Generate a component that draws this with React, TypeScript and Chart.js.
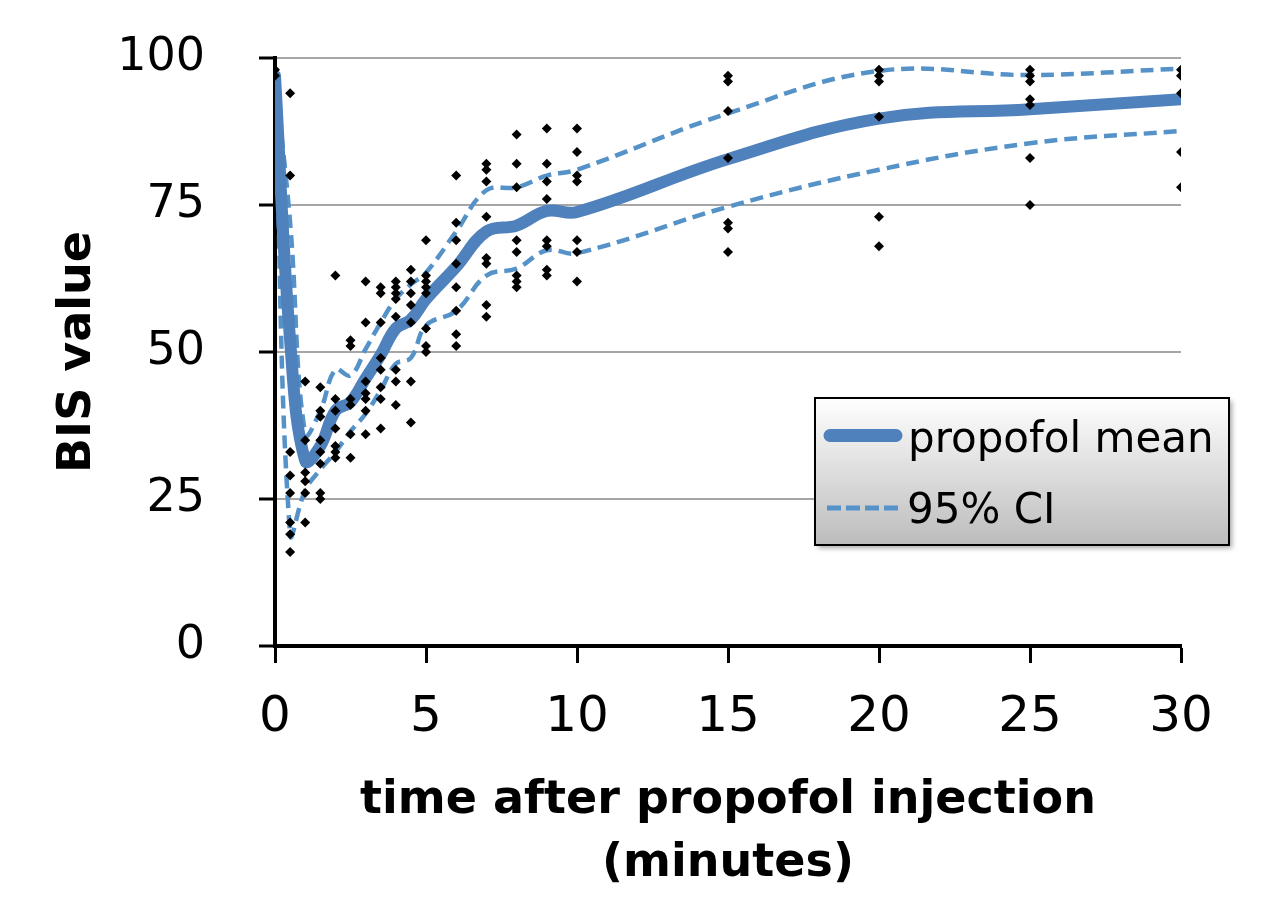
import React, { useEffect, useRef } from 'react';
import { Chart, registerables } from 'chart.js';

Chart.register(...registerables);

const FONT = '"DejaVu Sans", sans-serif';

// smoothed curves (minutes -> BIS)
const lineTimes = [0, 0.5, 1, 1.5, 2, 2.5, 3, 3.5, 4, 4.5, 5, 6, 7, 8, 9, 10, 15, 20, 25, 30];
const meanBIS = [97, 52, 31.5, 34, 40, 41.5, 45.5, 49.5, 54, 55.5, 59, 64.5, 70.5, 71.5, 74, 73.8, 82.8, 89.7, 91.3, 93];
const upperCI = [97, 72, 36, 40, 47, 46, 50.5, 55, 59, 61.5, 63.5, 70.5, 77.5, 78, 80, 81, 90.6, 97.8, 97.1, 98.2];
const lowerCI = [97, 19, 26.5, 30, 33, 36.5, 39.5, 43.5, 48, 49, 54.5, 57, 63, 64.2, 67.3, 66.8, 74.7, 81, 85.5, 87.6];

// individual observations per time point
const obsTimes = [0, 0.5, 1, 1.5, 2, 2.5, 3, 3.5, 4, 4.5, 5, 6, 7, 8, 9, 10, 15, 20, 25, 30];
const obsBIS = [
  [98, 97],
  [94, 80, 33, 29, 26, 21, 19, 16],
  [45, 35, 29.5, 28, 26, 21],
  [44, 40, 39, 35, 33, 31, 26, 25],
  [63, 42, 40, 37, 34, 33, 32],
  [52, 51, 42, 41, 36, 32],
  [62, 55, 45, 43, 42, 40, 36],
  [61, 60, 55, 49, 47, 44, 42, 37],
  [62, 61, 60, 59, 56, 47, 45, 41],
  [64, 62, 60, 58, 55, 45, 38],
  [69, 63, 62, 61, 60, 54, 51, 50],
  [80, 72, 69, 65, 61, 57, 53, 51],
  [82, 81, 79, 73, 66, 65, 58, 56],
  [87, 82, 78, 69, 67, 63, 62, 61],
  [88, 82, 79, 76, 69, 68, 64, 63],
  [88, 84, 80, 79, 69, 67, 62],
  [97, 96, 91, 83, 72, 71, 67],
  [98, 97, 96, 90, 73, 68],
  [98, 97, 96, 93, 92, 83, 75],
  [98, 97, 94, 84, 78],
];

const xTickStep = 5;
const yTickStep = 25;
const xTitle = ['time after propofol injection', '(minutes)'];
const yTitle = 'BIS value';
const meanLabel = 'propofol mean';
const ciLabel = '95% CI';

const MEAN_COLOR = '#4f81bd';
const CI_COLOR = '#5592c8';

const toPoints = (xs: number[], ys: number[]) => xs.map((x, i) => ({ x, y: ys[i] }));

const boxLegend = {
  id: 'boxLegend',
  afterDraw(chart: any) {
    const ctx = chart.ctx as CanvasRenderingContext2D;
    const x0 = 807, y0 = 390, w = 414, h = 147;
    ctx.save();
    ctx.shadowColor = 'rgba(0,0,0,0.35)';
    ctx.shadowBlur = 5;
    ctx.shadowOffsetX = 3;
    ctx.shadowOffsetY = 3;
    const g = ctx.createLinearGradient(0, y0, 0, y0 + h);
    g.addColorStop(0, '#ffffff');
    g.addColorStop(1, '#bcbcbc');
    ctx.fillStyle = g;
    ctx.fillRect(x0, y0, w, h);
    ctx.shadowColor = 'rgba(0,0,0,0)';
    ctx.lineWidth = 2;
    ctx.strokeStyle = '#000';
    ctx.strokeRect(x0, y0, w, h);

    // mean sample
    ctx.lineCap = 'round';
    ctx.strokeStyle = MEAN_COLOR;
    ctx.lineWidth = 13;
    ctx.beginPath();
    ctx.moveTo(822, 427.5);
    ctx.lineTo(888, 427.5);
    ctx.stroke();

    // CI sample
    ctx.lineCap = 'butt';
    ctx.strokeStyle = CI_COLOR;
    ctx.lineWidth = 5;
    ctx.setLineDash([14, 5]);
    ctx.beginPath();
    ctx.moveTo(819, 500);
    ctx.lineTo(891, 500);
    ctx.stroke();
    ctx.setLineDash([]);

    ctx.fillStyle = '#000';
    ctx.font = '42px ' + FONT;
    ctx.textBaseline = 'alphabetic';
    ctx.textAlign = 'left';
    ctx.fillText(chart.data.datasets[1].label, 900, 444);
    ctx.fillText(chart.data.datasets[2].label, 899, 515);
    ctx.restore();
  },
};

export default function App() {
  const ref = useRef<HTMLCanvasElement>(null);

  useEffect(() => {
    const obsPoints: { x: number; y: number }[] = [];
    obsTimes.forEach((t, i) => obsBIS[i].forEach((v) => obsPoints.push({ x: t, y: v })));

    const chart = new Chart(ref.current as HTMLCanvasElement, {
      type: 'scatter',
      data: {
        datasets: [
          {
            label: 'observations',
            data: obsPoints,
            pointStyle: 'rectRot',
            pointRadius: 5,
            pointBackgroundColor: '#000',
            pointBorderWidth: 0,
            showLine: false,
          },
          {
            label: meanLabel,
            data: toPoints(lineTimes, meanBIS),
            showLine: true,
            borderColor: MEAN_COLOR,
            borderWidth: 12,
            pointRadius: 0,
            tension: 0.4,
            borderCapStyle: 'round',
            borderJoinStyle: 'round',
          },
          {
            label: ciLabel,
            data: toPoints(lineTimes, upperCI),
            showLine: true,
            borderColor: CI_COLOR,
            borderWidth: 4.5,
            borderDash: [13, 7],
            pointRadius: 0,
            tension: 0.4,
          },
          {
            label: ciLabel + ' lower',
            data: toPoints(lineTimes, lowerCI),
            showLine: true,
            borderColor: CI_COLOR,
            borderWidth: 4.5,
            borderDash: [13, 7],
            pointRadius: 0,
            tension: 0.4,
          },
        ],
      },
      options: {
        animation: false,
        responsive: false,
        maintainAspectRatio: false,
        devicePixelRatio: 1,
        layout: { padding: { top: 50, right: 83, left: 0, bottom: 0 } },
        plugins: {
          legend: { display: false },
          tooltip: { enabled: false },
          title: { display: false },
        },
        scales: {
          x: {
            type: 'linear',
            min: 0,
            max: 30,
            ticks: {
              stepSize: xTickStep,
              color: '#000',
              font: { family: FONT, size: 50 },
              padding: 25,
              maxRotation: 0,
            },
            grid: {
              drawOnChartArea: false,
              drawTicks: true,
              tickLength: 17,
              tickColor: '#000',
              tickWidth: 3,
            },
            border: { display: true, color: '#000', width: 4 },
            title: {
              display: true,
              text: xTitle,
              color: '#000',
              font: { family: FONT, size: 46, weight: 'bold', lineHeight: 1.37 },
              padding: { top: 0, bottom: 8 },
            },
            afterFit: (s: any) => {
              s.height = 258;
              s.paddingLeft = 0;
              s.paddingRight = 0;
            },
          },
          y: {
            type: 'linear',
            min: 0,
            max: 100,
            ticks: {
              stepSize: yTickStep,
              color: '#000',
              font: { family: FONT, size: 46 },
              padding: 54,
            },
            grid: {
              color: (c: any) => (c.tick && c.tick.value === 0 ? 'rgba(0,0,0,0)' : '#a6a6a6'),
              lineWidth: 2,
              drawTicks: true,
              tickLength: 16,
              tickColor: '#000',
              tickWidth: 3,
            },
            border: { display: true, color: '#000', width: 4 },
            title: {
              display: true,
              text: yTitle,
              color: '#000',
              font: { family: FONT, size: 46, weight: 'bold' },
              padding: { top: 42, bottom: 0 },
            },
            afterFit: (s: any) => {
              s.width = 267;
              s.paddingTop = 0;
              s.paddingBottom = 0;
            },
          },
        },
      },
      plugins: [boxLegend],
    });
    return () => chart.destroy();
  }, []);

  return (
    <canvas
      ref={ref}
      width={1256}
      height={896}
      style={{ display: 'block', width: 1256, height: 896 }}
    />
  );
}
